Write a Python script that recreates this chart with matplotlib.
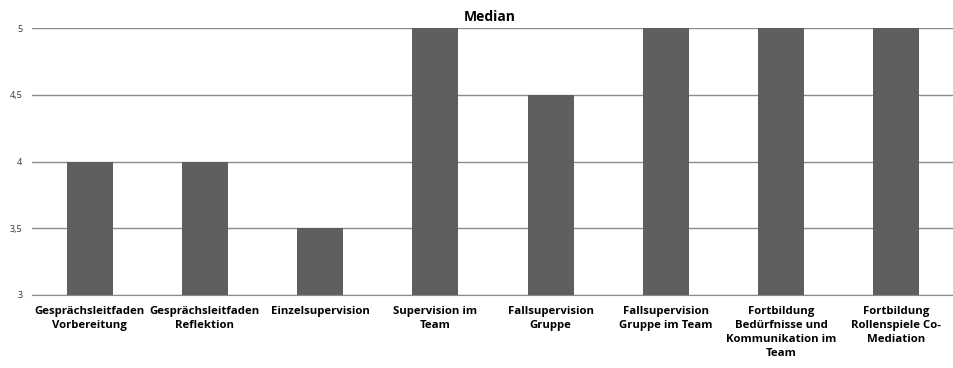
import matplotlib.pyplot as plt
from matplotlib.ticker import FuncFormatter

# --------------------------------------------------------------------
# Daten
# --------------------------------------------------------------------
categories = [
    "Gesprächsleitfaden\nVorbereitung",
    "Gesprächsleitfaden\nReflektion",
    "Einzelsupervision",
    "Supervision im\nTeam",
    "Fallsupervision\nGruppe",
    "Fallsupervision\nGruppe im Team",
    "Fortbildung\nBedürfnisse und\nKommunikation im\nTeam",
    "Fortbildung\nRollenspiele Co-\nMediation",
]
median = [4, 4, 3.5, 5, 4.5, 5, 5, 5]
y_ticks = [3, 3.5, 4, 4.5, 5]

plt.rcParams["font.family"] = ["Open Sans", "DejaVu Sans"]

fig = plt.figure(figsize=(9.54, 3.68), dpi=100)
ax = fig.add_axes([32 / 954, 1 - 295 / 368, 922 / 954, 267 / 368])

x = range(len(categories))
ax.bar(x, median, width=0.4, color="#5f5f5f", zorder=2)

ax.set_xlim(-0.5, len(categories) - 0.5)
ax.set_ylim(3, 5)
ax.set_yticks(y_ticks)
ax.yaxis.set_major_formatter(FuncFormatter(lambda v, p: f"{v:g}".replace(".", ",")))
ax.grid(axis="y", color="#8c8c8c", linewidth=1, zorder=0)
ax.set_axisbelow(True)

ax.set_xticks(list(x))
ax.set_xticklabels(categories, fontsize=8.2, fontweight="bold", linespacing=1.38)
ax.tick_params(axis="x", length=0, pad=8)
ax.tick_params(axis="y", length=0, labelsize=6.5, colors="#333333", pad=7)

for side in ["top", "right", "left"]:
    ax.spines[side].set_visible(False)
ax.spines["bottom"].set_color("#8c8c8c")

fig.text(490 / 954, 1 - 17 / 368, "Median", ha="center", va="center",
         fontsize=10, fontweight="bold")

fig.savefig("out.png", dpi=100)
